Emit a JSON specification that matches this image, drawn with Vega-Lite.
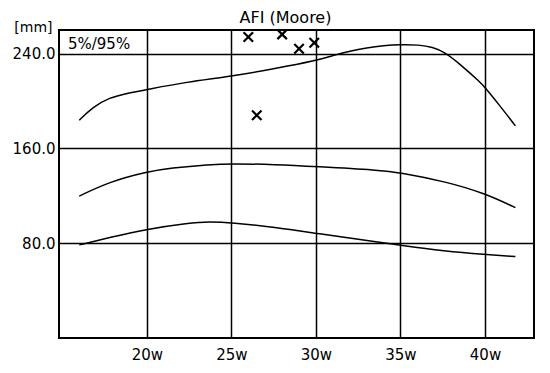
{
  "$schema": "https://vega.github.io/schema/vega-lite/v6.json",
  "width": 475,
  "height": 308,
  "autosize": "none",
  "padding": {"left": 59, "top": 30, "right": 16, "bottom": 35},
  "background": "white",
  "config": {
    "font": "DejaVu Sans",
    "view": {"stroke": "black", "strokeWidth": 2}
  },
  "title": {
    "text": "AFI (Moore)",
    "fontSize": 16,
    "fontWeight": "normal",
    "color": "black",
    "anchor": "middle",
    "dx": -11,
    "offset": -6
  },
  "datasets": {
    "curves": [
      {"pct": "95%", "week": 16.0, "mm": 183.8},
      {"pct": "95%", "week": 16.8, "mm": 195.0},
      {"pct": "95%", "week": 17.8, "mm": 203.0},
      {"pct": "95%", "week": 18.8, "mm": 206.5},
      {"pct": "95%", "week": 20.0, "mm": 209.7},
      {"pct": "95%", "week": 22.3, "mm": 216.0},
      {"pct": "95%", "week": 25.0, "mm": 221.0},
      {"pct": "95%", "week": 27.6, "mm": 227.4},
      {"pct": "95%", "week": 30.0, "mm": 234.1},
      {"pct": "95%", "week": 31.1, "mm": 238.8},
      {"pct": "95%", "week": 32.0, "mm": 242.2},
      {"pct": "95%", "week": 33.0, "mm": 245.0},
      {"pct": "95%", "week": 34.0, "mm": 246.9},
      {"pct": "95%", "week": 35.0, "mm": 247.8},
      {"pct": "95%", "week": 36.1, "mm": 247.5},
      {"pct": "95%", "week": 36.9, "mm": 245.6},
      {"pct": "95%", "week": 37.6, "mm": 241.4},
      {"pct": "95%", "week": 38.5, "mm": 231.5},
      {"pct": "95%", "week": 39.7, "mm": 216.2},
      {"pct": "95%", "week": 40.0, "mm": 211.5},
      {"pct": "95%", "week": 40.8, "mm": 197.5},
      {"pct": "95%", "week": 41.8, "mm": 179.1},
      {"pct": "50%", "week": 16.0, "mm": 119.8},
      {"pct": "50%", "week": 17.8, "mm": 132.0},
      {"pct": "50%", "week": 20.0, "mm": 140.4},
      {"pct": "50%", "week": 21.4, "mm": 143.5},
      {"pct": "50%", "week": 23.7, "mm": 146.5},
      {"pct": "50%", "week": 25.0, "mm": 147.2},
      {"pct": "50%", "week": 27.6, "mm": 146.5},
      {"pct": "50%", "week": 30.0, "mm": 144.8},
      {"pct": "50%", "week": 33.75, "mm": 141.8},
      {"pct": "50%", "week": 35.0, "mm": 139.5},
      {"pct": "50%", "week": 37.7, "mm": 132.0},
      {"pct": "50%", "week": 40.0, "mm": 122.1},
      {"pct": "50%", "week": 41.8, "mm": 110.0},
      {"pct": "5%", "week": 16.0, "mm": 78.6},
      {"pct": "5%", "week": 17.8, "mm": 84.8},
      {"pct": "5%", "week": 20.0, "mm": 92.0},
      {"pct": "5%", "week": 22.5, "mm": 97.2},
      {"pct": "5%", "week": 23.7, "mm": 98.3},
      {"pct": "5%", "week": 25.0, "mm": 97.4},
      {"pct": "5%", "week": 27.6, "mm": 93.5},
      {"pct": "5%", "week": 30.0, "mm": 88.4},
      {"pct": "5%", "week": 33.75, "mm": 80.8},
      {"pct": "5%", "week": 35.0, "mm": 78.2},
      {"pct": "5%", "week": 37.6, "mm": 73.4},
      {"pct": "5%", "week": 40.0, "mm": 70.5},
      {"pct": "5%", "week": 41.8, "mm": 68.8}
    ],
    "measurements": [
      {"week": 26.0, "mm": 254.1},
      {"week": 28.0, "mm": 256.3},
      {"week": 29.0, "mm": 244.2},
      {"week": 29.9, "mm": 249.3},
      {"week": 26.5, "mm": 188.0}
    ],
    "labels": [
      {"week": 15.33, "mm": 248.4, "text": "5%/95%"}
    ]
  },
  "layer": [
    {
      "data": {"name": "curves"},
      "mark": {"type": "line", "color": "black", "strokeWidth": 1.5, "interpolate": "basis"},
      "encoding": {
        "x": {
          "field": "week", "type": "quantitative",
          "scale": {"domain": [14.8, 42.9], "nice": false, "zero": false},
          "axis": {
            "values": [20, 25, 30, 35, 40],
            "labelExpr": "datum.value + 'w'",
            "grid": true, "gridColor": "black", "gridWidth": 1.5, "gridOpacity": 1,
            "ticks": false, "domain": false,
            "labelFontSize": 15, "labelColor": "black", "labelPadding": 9,
            "title": null
          }
        },
        "y": {
          "field": "mm", "type": "quantitative",
          "scale": {"domain": [0, 260], "nice": false},
          "axis": {
            "values": [80, 160, 240],
            "format": ".1f",
            "grid": true, "gridColor": "black", "gridWidth": 1.5, "gridOpacity": 1,
            "ticks": false, "domain": false,
            "labelFontSize": 15, "labelColor": "black", "labelPadding": 4,
            "title": "[mm]", "titleAngle": 0, "titleAlign": "right", "titleBaseline": "alphabetic",
            "titleX": -7, "titleY": 1, "titleFontSize": 14, "titleFontWeight": "normal", "titleColor": "black"
          }
        },
        "detail": {"field": "pct"}
      }
    },
    {
      "data": {"name": "measurements"},
      "mark": {"type": "point", "shape": "M-1,-1L1,1M-1,1L1,-1", "size": 90, "filled": false, "stroke": "black", "strokeWidth": 2.2, "opacity": 1},
      "encoding": {
        "x": {"field": "week", "type": "quantitative"},
        "y": {"field": "mm", "type": "quantitative"}
      }
    },
    {
      "data": {"name": "labels"},
      "mark": {"type": "text", "align": "left", "baseline": "middle", "fontSize": 15, "color": "black"},
      "encoding": {
        "x": {"field": "week", "type": "quantitative"},
        "y": {"field": "mm", "type": "quantitative"},
        "text": {"field": "text"}
      }
    }
  ]
}
